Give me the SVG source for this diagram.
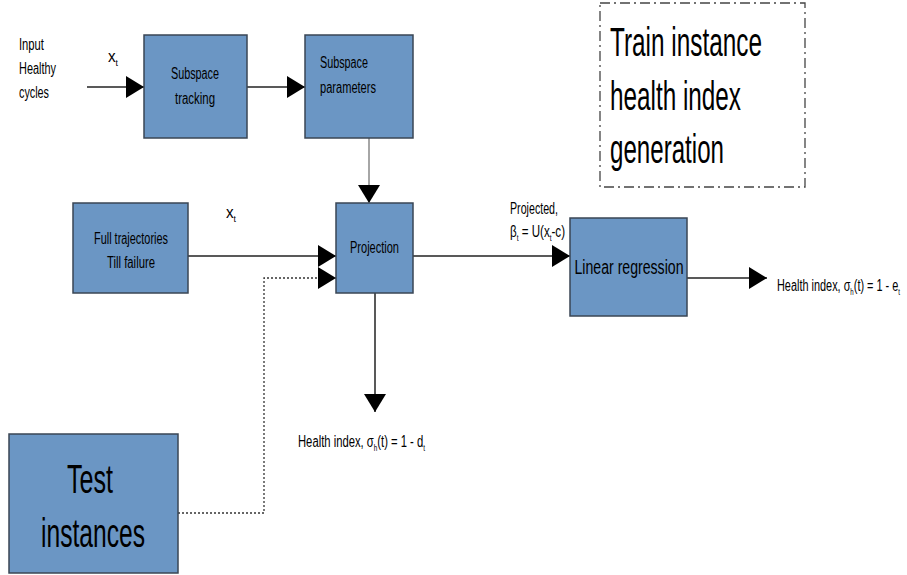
<svg xmlns="http://www.w3.org/2000/svg" width="907" height="575" viewBox="0 0 907 575">
<defs>
<style>
text{font-family:"Liberation Sans",Arial,sans-serif;fill:#000;}
.box{fill:#6b96c4;stroke:#3a4654;stroke-width:1.5;}
.ln{stroke:#222;stroke-width:1.5;fill:none;}
.s{font-size:16px;}
.sub{font-size:9px;}
</style>
<marker id="ah" viewBox="0 0 18 22" refX="18" refY="11" markerWidth="18" markerHeight="22" markerUnits="userSpaceOnUse" orient="auto">
<path d="M0,0 L18,11 L0,22 Z" fill="#000"/>
</marker>
</defs>
<g id="connectors">
<line class="ln" x1="87" y1="87" x2="144" y2="87" marker-end="url(#ah)"/>
<line class="ln" x1="247" y1="87" x2="305" y2="87" marker-end="url(#ah)"/>
<line x1="369" y1="138" x2="369" y2="203" stroke="#888" stroke-width="1.5" marker-end="url(#ah)"/>
<line class="ln" x1="188" y1="256" x2="336" y2="256" marker-end="url(#ah)"/>
<path d="M178,513 H264 V278 H336" fill="none" stroke="#333" stroke-width="1.3" stroke-dasharray="2,2" marker-end="url(#ah)"/>
<line class="ln" x1="413" y1="256" x2="570" y2="256" marker-end="url(#ah)"/>
<line class="ln" x1="687" y1="278" x2="767" y2="278" marker-end="url(#ah)"/>
<line class="ln" x1="375" y1="293" x2="375" y2="412" marker-end="url(#ah)"/>
</g>
<g id="input-label">
<text class="s" x="19" y="50" textLength="25" lengthAdjust="spacingAndGlyphs">Input</text>
<text class="s" x="19" y="74" textLength="37" lengthAdjust="spacingAndGlyphs">Healthy</text>
<text class="s" x="19" y="98" textLength="30" lengthAdjust="spacingAndGlyphs">cycles</text>
<text class="s" x="108" y="62" textLength="10" lengthAdjust="spacingAndGlyphs">x<tspan class="sub" dy="4">t</tspan></text>
</g>
<g id="subspace-tracking">
<rect class="box" x="144" y="35" width="103" height="103"/>
<text class="s" x="195" y="79" text-anchor="middle" textLength="48" lengthAdjust="spacingAndGlyphs">Subspace</text>
<text class="s" x="195" y="104" text-anchor="middle" textLength="40" lengthAdjust="spacingAndGlyphs">tracking</text>
</g>
<g id="subspace-parameters">
<rect class="box" x="305" y="35" width="108" height="103"/>
<text class="s" x="320" y="68" textLength="48" lengthAdjust="spacingAndGlyphs">Subspace</text>
<text class="s" x="320" y="93" textLength="56" lengthAdjust="spacingAndGlyphs">parameters</text>
</g>
<g id="full-trajectories">
<rect class="box" x="73" y="203" width="115" height="90"/>
<text class="s" x="131" y="244" text-anchor="middle" textLength="74" lengthAdjust="spacingAndGlyphs">Full trajectories</text>
<text class="s" x="131" y="268" text-anchor="middle" textLength="48" lengthAdjust="spacingAndGlyphs">Till failure</text>
<text class="s" x="226" y="218" textLength="10" lengthAdjust="spacingAndGlyphs">x<tspan class="sub" dy="4">t</tspan></text>
</g>
<g id="projection">
<rect class="box" x="336" y="203" width="77" height="90"/>
<text class="s" x="374.5" y="253" text-anchor="middle" textLength="49" lengthAdjust="spacingAndGlyphs">Projection</text>
</g>
<g id="projected-label">
<text class="s" x="510" y="214" textLength="48" lengthAdjust="spacingAndGlyphs">Projected,</text>
<text class="s" x="510" y="237" textLength="55" lengthAdjust="spacingAndGlyphs">β<tspan class="sub" dy="4">t</tspan><tspan dy="-4"> = U(x</tspan><tspan class="sub" dy="4">t</tspan><tspan dy="-4">-c)</tspan></text>
</g>
<g id="linear-regression">
<rect class="box" x="570" y="218" width="117" height="98"/>
<text x="629" y="274" text-anchor="middle" font-size="20" textLength="109" lengthAdjust="spacingAndGlyphs">Linear regression</text>
</g>
<g id="health-index-e">
<text class="s" x="777" y="291" textLength="123" lengthAdjust="spacingAndGlyphs">Health index, σ<tspan class="sub" dy="4">h</tspan><tspan dy="-4">(t) = 1 - e</tspan><tspan class="sub" dy="4">t</tspan></text>
</g>
<g id="health-index-d">
<text class="s" x="298" y="447" textLength="127" lengthAdjust="spacingAndGlyphs">Health index, σ<tspan class="sub" dy="4">h</tspan><tspan dy="-4">(t) = 1 - d</tspan><tspan class="sub" dy="4">t</tspan></text>
</g>
<g id="test-instances">
<rect class="box" x="9" y="434" width="169" height="139"/>
<text x="90" y="493" text-anchor="middle" font-size="40" textLength="46" lengthAdjust="spacingAndGlyphs">Test</text>
<text x="93" y="547" text-anchor="middle" font-size="40" textLength="104" lengthAdjust="spacingAndGlyphs">instances</text>
</g>
<g id="train-title">
<rect x="600" y="3" width="205" height="184" fill="none" stroke="#444" stroke-width="1.3" stroke-dasharray="10,4,2,4"/>
<text x="610" y="56" font-size="40" textLength="152" lengthAdjust="spacingAndGlyphs">Train instance</text>
<text x="610" y="110" font-size="40" textLength="131" lengthAdjust="spacingAndGlyphs">health index</text>
<text x="610" y="163" font-size="40" textLength="114" lengthAdjust="spacingAndGlyphs">generation</text>
</g>
</svg>
